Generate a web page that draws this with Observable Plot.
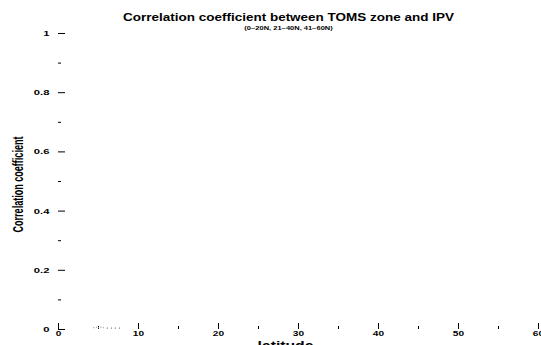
<!DOCTYPE html>
<html>
<head>
<meta charset="utf-8">
<script src="https://cdn.jsdelivr.net/npm/d3@7"></script>
<script src="https://cdn.jsdelivr.net/npm/@observablehq/plot@0.6"></script>
<style>
  html, body { margin: 0; padding: 0; background: #fff; }
  svg { display: block; }
</style>
</head>
<body>
<div id="chart"></div>
<script>
const titleText = "Correlation coefficient between TOMS zone and IPV";
const subtitleText = "(0\u221220N, 21\u221240N, 41\u221260N)";
const xLabelText = "latitude";
const yLabelText = "Correlation coefficient";

const xMajor = [0, 10, 20, 30, 40, 50, 60];
const xMinor = [5, 15, 25, 35, 45, 55];
const yMajor = [0, 0.2, 0.4, 0.6, 0.8, 1];
const yMinor = [0.1, 0.3, 0.5, 0.7, 0.9];
const yTickLabels = ["0", "0.2", "0.4", "0.6", "0.8", "1"];

// faint points (grey) and dark points near zero correlation
const greyLat = [4.4, 4.75, 5.0, 5.3, 5.6];
const greyCorr = [0.006, 0.008, 0.006, 0.008, 0.006];
const darkLat = [6.1, 6.6, 7.1, 7.6];
const darkCorr = [0.005, 0.005, 0.005, 0.005];

const W = 541, H = 345;
const mL = 58, mR = 3, mT = 33, mB = 16;
const pw = W - mL - mR, ph = H - mT - mB;

const grey = greyLat.map((x, i) => ({x, y: greyCorr[i]}));
const dark = darkLat.map((x, i) => ({x, y: darkCorr[i]}));

const font = "'Liberation Sans', Arial, Helvetica, sans-serif";

const chart = Plot.plot({
  width: W, height: H,
  marginLeft: mL, marginRight: mR, marginTop: mT, marginBottom: mB,
  style: {fontFamily: font, background: "#fff", overflow: "visible"},
  x: {domain: [0, 60], axis: null},
  y: {domain: [0, 1], axis: null},
  marks: [
    Plot.tickY(yMajor, {y: d => d, stroke: "#000", strokeWidth: 1, insetRight: pw - 7}),
    Plot.tickY(yMinor, {y: d => d, stroke: "#000", strokeWidth: 1, insetRight: pw - 3}),
    Plot.text(yMajor, {y: d => d, text: (d, i) => yTickLabels[i], frameAnchor: "left", dx: -9, textAnchor: "end", fontSize: 7.5, fontWeight: "bold", fill: "#000"}),
    Plot.tickX(xMajor, {x: d => d, stroke: "#000", strokeWidth: 1, insetTop: ph - 6}),
    Plot.tickX(xMinor, {x: d => d, stroke: "#000", strokeWidth: 1, insetTop: ph - 3}),
    Plot.text(xMajor, {x: d => d, text: d => String(d), frameAnchor: "bottom", dy: 6, fontSize: 7, fontWeight: "bold", fill: "#000"}),
    Plot.dot(grey, {x: "x", y: "y", r: 0.6, fill: "#999", stroke: null}),
    Plot.dot(dark, {x: "x", y: "y", r: 0.6, fill: "#333", stroke: null}),
    Plot.text([titleText], {text: d => d, frameAnchor: "top", dx: -10, dy: -20, fontSize: 10.5, fontWeight: "bold", fill: "#000"}),
    Plot.text([subtitleText], {text: d => d, frameAnchor: "top", dx: -10, dy: -7, fontSize: 5, fontWeight: "bold", fill: "#000"}),
    Plot.text([xLabelText], {text: d => d, frameAnchor: "bottom", dx: -13, dy: 20, lineAnchor: "bottom", fontSize: 13, fontWeight: "bold", fill: "#000"}),
    Plot.text([yLabelText], {text: d => d, frameAnchor: "left", textAnchor: "middle", dx: -40, dy: 3, rotate: -90, fontSize: 15, fontWeight: "bold", fill: "#000"})
  ]
});
document.getElementById("chart").appendChild(chart);

// horizontal stretch / fit of text to match the reference's proportions
const lengths = new Map([[titleText, 331], [subtitleText, 89], [xLabelText, 56], [yLabelText, 96]]);
chart.querySelectorAll("text").forEach(el => {
  const content = el.textContent;
  const w = el.getBBox().width;
  let s;
  if (lengths.has(content)) s = lengths.get(content) / w;
  else {
    let p = el.parentNode, anchor = null;
    while (p && p.getAttribute && !anchor) { anchor = p.getAttribute("text-anchor"); p = p.parentNode; }
    s = anchor === "end" ? 1.5 : 1.45;
  }
  const t = el.getAttribute("transform");
  if (t) {
    el.setAttribute("transform", `${t} scale(${s},1)`);
  } else {
    const x = +el.getAttribute("x") || 0;
    el.setAttribute("transform", `translate(${x},0) scale(${s},1) translate(${-x},0)`);
  }
});
</script>
</body>
</html>
